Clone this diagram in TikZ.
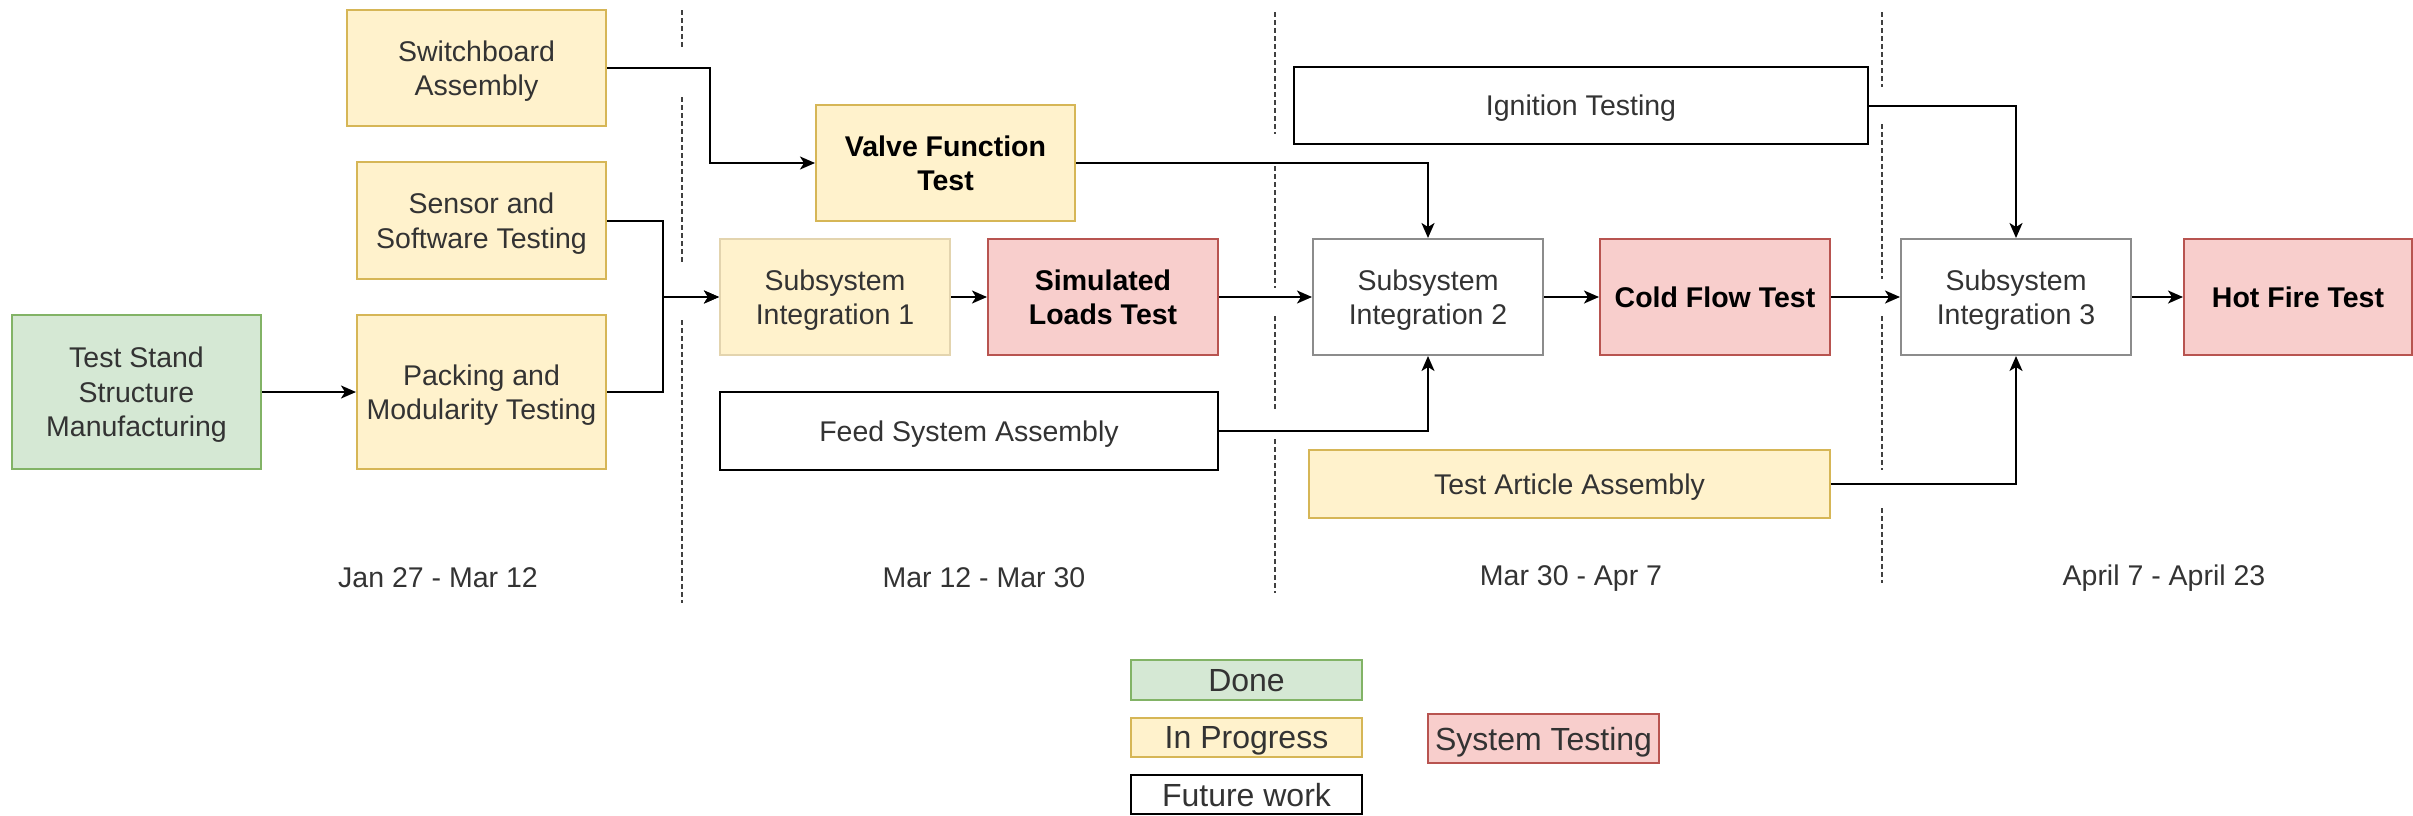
\documentclass[tikz,border=0pt]{standalone}
\usepackage{fontspec}
\setmainfont{Liberation Sans}
\usetikzlibrary{arrows.meta}

\definecolor{doneFill}{HTML}{D5E8D4}
\definecolor{doneLine}{HTML}{82B366}
\definecolor{progFill}{HTML}{FFF2CC}
\definecolor{progLine}{HTML}{D6B656}
\definecolor{progSoft}{HTML}{E3D4AE}
\definecolor{testFill}{HTML}{F8CECC}
\definecolor{testLine}{HTML}{B85450}
\definecolor{softGray}{HTML}{8C8C8C}
\definecolor{txt}{HTML}{333333}

\tikzset{
  box/.style={rectangle, inner sep=0pt, align=center, text=txt, text depth=0pt,
    font=\fontsize{28.5}{34.4}\selectfont, line width=2pt},
  done/.style={box, fill=doneFill, draw=doneLine},
  prog/.style={box, fill=progFill, draw=progLine},
  progsoft/.style={box, fill=progFill, draw=progSoft},
  systest/.style={box, fill=testFill, draw=testLine},
  future/.style={box, fill=white, draw=black, line width=2.5pt},
  futuresoft/.style={box, fill=white, draw=softGray},
  heavy/.style={font=\fontsize{28.5}{34.4}\selectfont\bfseries, text=black},
  legend/.style={font=\fontsize{32}{38}\selectfont},
  datelabel/.style={text=txt, font=\fontsize{28.5}{34.4}\selectfont},
  conn/.style={draw=black, line width=2pt,
    -{Stealth[length=15pt, width=13pt, inset=4pt]}},
  divider/.style={draw=black!75, line width=1.6pt, dash pattern=on 4.5pt off 3.5pt}
}

\begin{document}
\begin{tikzpicture}[x=1pt, y=-1pt]
  \useasboundingbox (0,0) rectangle (2413,815);

  % phase dividers
  \draw[divider] (682,10) -- (682,47) (682,97) -- (682,265) (682,320) -- (682,603);
  \draw[divider] (1275,12) -- (1275,134) (1275,166) -- (1275,288)
                 (1275,316) -- (1275,411) (1275,439) -- (1275,593);
  \draw[divider] (1882,12) -- (1882,87) (1882,124) -- (1882,279)
                 (1882,316) -- (1882,470) (1882,508) -- (1882,583);

  % tasks
  \node[done, minimum width=249pt, minimum height=154pt] (stand) at (136.5,392)
    {Test Stand\\Structure\\Manufacturing};
  \node[prog, minimum width=259pt, minimum height=116pt] (switch) at (476.5,68)
    {Switchboard\\Assembly};
  \node[prog, minimum width=249pt, minimum height=117pt] (sensor) at (481.5,220.5)
    {Sensor and\\Software Testing};
  \node[prog, minimum width=249pt, minimum height=154pt] (pack) at (481.5,392)
    {Packing and\\Modularity Testing};
  \node[prog, heavy, minimum width=259pt, minimum height=116pt] (valve) at (945.5,163)
    {Valve Function\\Test};
  \node[progsoft, minimum width=230pt, minimum height=116pt] (sub1) at (835,297)
    {Subsystem\\Integration 1};
  \node[systest, heavy, minimum width=230pt, minimum height=116pt] (sim) at (1103,297)
    {Simulated\\Loads Test};
  \node[future, minimum width=498pt, minimum height=78pt] (feed) at (969,431)
    {Feed System Assembly};
  \node[future, minimum width=574pt, minimum height=77pt] (ign) at (1581,105.5)
    {Ignition Testing};
  \node[futuresoft, minimum width=230pt, minimum height=116pt] (sub2) at (1428,297)
    {Subsystem\\Integration 2};
  \node[systest, heavy, minimum width=230pt, minimum height=116pt] (cold) at (1715,297)
    {Cold Flow Test};
  \node[prog, minimum width=521pt, minimum height=68pt] (art) at (1569.5,484)
    {Test Article Assembly};
  \node[futuresoft, minimum width=230pt, minimum height=116pt] (sub3) at (2016,297)
    {Subsystem\\Integration 3};
  \node[systest, heavy, minimum width=228pt, minimum height=116pt] (hot) at (2298,297)
    {Hot Fire Test};

  % junction points of the merged connectors
  \coordinate (joinA) at (662.5,297);
  \coordinate (joinB) at (710,163);

  % connectors
  \draw[conn] (stand.east) -- (pack.west);
  \draw[conn] (sensor.east) -| (joinA) -- (sub1.west);
  \draw[conn] (pack.east) -| (joinA) -- (sub1.west);
  \draw[conn] (switch.east) -| (joinB) -- (valve.west);
  \draw[conn] (sub1.east) -- (sim.west);
  \draw[conn] (valve.east) -| (sub2.north);
  \draw[conn] (sim.east) -- (sub2.west);
  \draw[conn] (feed.east) -| (sub2.south);
  \draw[conn] (sub2.east) -- (cold.west);
  \draw[conn] (cold.east) -- (sub3.west);
  \draw[conn] (ign.east) -| (sub3.north);
  \draw[conn] (art.east) -| (sub3.south);
  \draw[conn] (sub3.east) -- (hot.west);

  % phase dates
  \node[datelabel] (d1) at (438,578) {Jan 27 - Mar 12};
  \node[datelabel] (d2) at (984,578) {Mar 12 - Mar 30};
  \node[datelabel] (d3) at (1571,578) {Mar 30 - Apr 7};
  \node[datelabel] (d4) at (2164,578) {April 7 - April 23};

  % legend
  \node[done, legend, minimum width=231pt, minimum height=40pt] (kDone) at (1246.5,680) {Done};
  \node[prog, legend, minimum width=231pt, minimum height=39pt] (kProg) at (1246.5,737.5) {In Progress};
  \node[future, legend, line width=2pt, minimum width=231pt, minimum height=39pt] (kFuture) at (1246.5,794.5) {Future work};
  \node[systest, legend, minimum width=231pt, minimum height=49pt] (kTest) at (1543.5,738.5) {System Testing};
\end{tikzpicture}
\end{document}
